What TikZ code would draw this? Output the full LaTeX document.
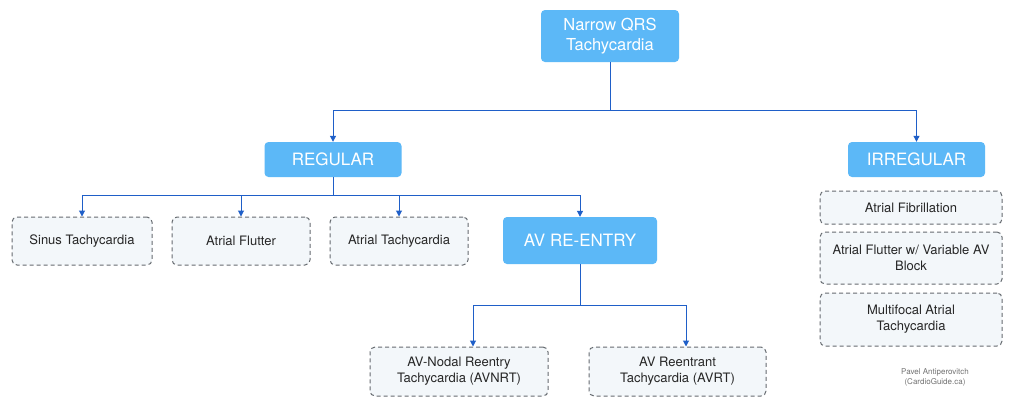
\documentclass[tikz,border=0pt]{standalone}
\usepackage{fontspec}
\setmainfont{TeX Gyre Heros}
\usetikzlibrary{arrows.meta}
\definecolor{bluebox}{HTML}{5CB8F7}
\definecolor{lineblue}{HTML}{1F5FC8}
\definecolor{leaf}{HTML}{F3F7FA}
\definecolor{leafborder}{HTML}{666B70}
\begin{document}
\begin{tikzpicture}[x=1pt,y=-1pt,
  main/.style={draw=none,fill=bluebox,rounded corners=4pt,text=white,align=center,inner sep=0pt},
  leafn/.style={draw=leafborder,line width=1pt,dash pattern=on 4pt off 3pt,fill=leaf,rounded corners=5pt,align=center,inner sep=0pt,font=\fontsize{13}{16}\selectfont,text=black!85},
  conn/.style={draw=lineblue,line width=1pt},
  arr/.style={conn,-{Triangle[length=6pt,width=6pt]}}]
\useasboundingbox (0,0) rectangle (1024,413);
\fill[white] (0,0) rectangle (1024,413);
\node[main,minimum width=138pt,minimum height=52pt,font=\fontsize{16.5}{19.5}\selectfont] (root) at (610,36) {Narrow QRS\\Tachycardia};
\node[main,minimum width=137pt,minimum height=35pt,font=\fontsize{17}{20}\selectfont] (reg) at (333,159.5) {REGULAR};
\node[main,minimum width=137pt,minimum height=35pt,font=\fontsize{17}{20}\selectfont] (irr) at (916.5,159.5) {IRREGULAR};
\node[leafn,minimum width=140pt,minimum height=48pt] (sinus) at (82,241) {Sinus Tachycardia};
\node[leafn,minimum width=138pt,minimum height=48pt] (flut) at (241,241) {Atrial Flutter};
\node[leafn,minimum width=138pt,minimum height=48pt] (atach) at (399,241) {Atrial Tachycardia};
\node[main,minimum width=154pt,minimum height=47pt,font=\fontsize{17}{20}\selectfont] (avre) at (580,240.5) {AV RE-ENTRY};
\node[leafn,minimum width=178pt,minimum height=49pt] (avnrt) at (459,371.5) {AV-Nodal Reentry\\Tachycardia (AVNRT)};
\node[leafn,minimum width=177pt,minimum height=49pt] (avrt) at (677.5,371.5) {AV Reentrant\\Tachycardia (AVRT)};
\node[leafn,minimum width=182pt,minimum height=33pt] (afib) at (911,207.5) {Atrial Fibrillation};
\node[leafn,minimum width=182pt,minimum height=52pt] (afvar) at (911,258) {Atrial Flutter w/ Variable AV\\Block};
\node[leafn,minimum width=182pt,minimum height=53pt] (mat) at (911,319.5) {Multifocal Atrial\\Tachycardia};
\node[align=center,text=black!55,font=\fontsize{8}{10}\selectfont,inner sep=0pt] (cred) at (935,377) {Pavel Antiperovitch\\(CardioGuide.ca)};
\coordinate (j1) at (610,110);
\coordinate (j2) at (333,195);
\coordinate (j3) at (580,305);
\draw[conn] (root.south) -- (j1);
\draw[arr] (j1) -| (reg.north);
\draw[arr] (j1) -| (irr.north);
\draw[conn] (reg.south) -- (j2);
\draw[arr] (j2) -| (sinus.north);
\draw[arr] (j2) -| (flut.north);
\draw[arr] (j2) -| (atach.north);
\draw[arr] (j2) -| (avre.north);
\draw[conn] (avre.south) -- (j3);
\draw[arr] (j3) -| ([xshift=14pt]avnrt.north);
\draw[arr] (j3) -| ([xshift=8.5pt]avrt.north);
\end{tikzpicture}
\end{document}
